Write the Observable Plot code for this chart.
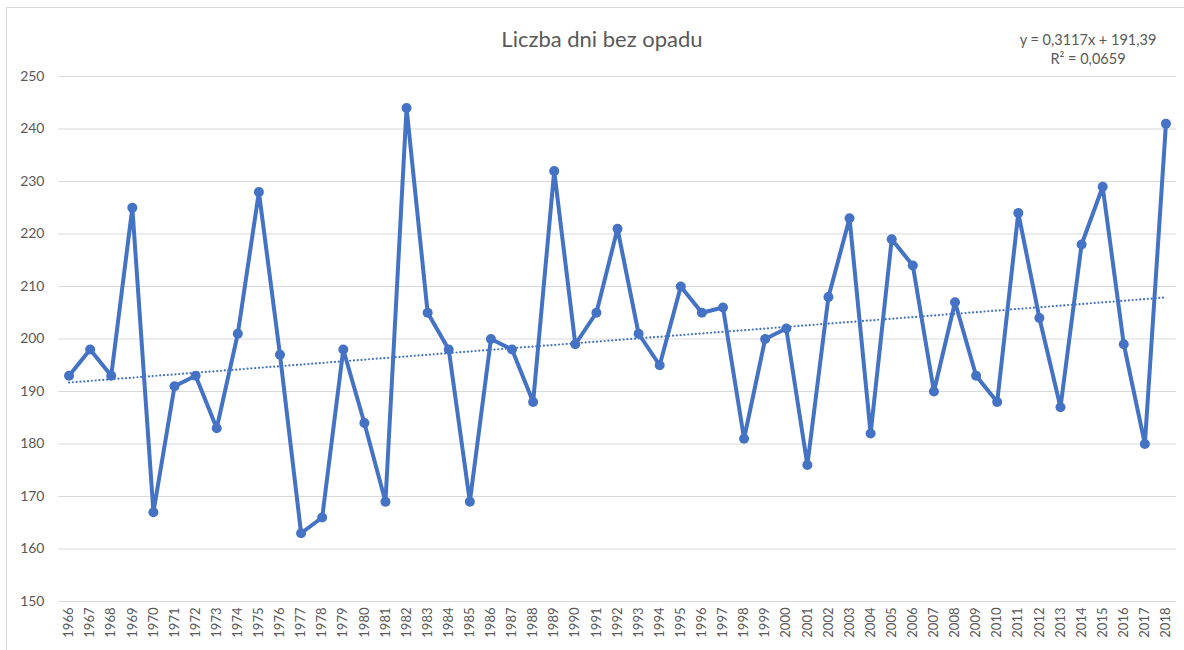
<!DOCTYPE html>
<html><head><meta charset="utf-8">
<script src="https://cdn.jsdelivr.net/npm/d3@7"></script>
<script src="https://cdn.jsdelivr.net/npm/@observablehq/plot@0.6"></script>
<style>
body{margin:0;background:#fff;font-family:Lato,"Open Sans",sans-serif;}
#wrap{position:relative;width:1184px;height:650px;overflow:hidden;}
#frame{position:absolute;left:6px;top:7px;width:1190px;height:660px;border:1px solid #d9d9d9;box-sizing:border-box;}
#title{position:absolute;left:0;width:1204px;top:25px;text-align:center;font-size:22px;color:#595959;}
#eq{position:absolute;left:1008px;width:160px;top:30px;text-align:center;font-size:14.5px;color:#595959;line-height:19px;}
#chart{position:absolute;left:0;top:0;}
</style></head>
<body>
<div id="wrap"><div id="frame"></div><div id="chart"></div><div id="title">Liczba dni bez opadu</div><div id="eq">y = 0,3117x + 191,39<br>R² = 0,0659</div></div>
<script>
const years = [1966,1967,1968,1969,1970,1971,1972,1973,1974,1975,1976,1977,1978,1979,1980,1981,1982,1983,1984,1985,1986,1987,1988,1989,1990,1991,1992,1993,1994,1995,1996,1997,1998,1999,2000,2001,2002,2003,2004,2005,2006,2007,2008,2009,2010,2011,2012,2013,2014,2015,2016,2017,2018];
const values = [193,198,193,225,167,191,193,183,201,228,197,163,166,198,184,169,244,205,198,169,200,198,188,232,199,205,221,201,195,210,205,206,181,200,202,176,208,223,182,219,214,190,207,193,188,224,204,187,218,229,199,180,241];
const yTicks = [150,160,170,180,190,200,210,220,230,240,250];

const data = years.map((year, i) => ({year, value: values[i]}));
const blue = "#4472C4";

const chart = Plot.plot({
  width: 1184, height: 650,
  marginLeft: 58, marginRight: 8, marginTop: 76, marginBottom: 49,
  style: {background: "transparent", fontFamily: "Lato, 'Open Sans', sans-serif", color: "#595959"},
  x: {type: "point", domain: years, padding: 0.5, round: false},
  y: {domain: [150, 250]},
  marks: [
    Plot.ruleY(yTicks, {stroke: "#d9d9d9", strokeWidth: 1.2}),
    Plot.axisY({ticks: yTicks, tickSize: 0, tickPadding: 14, fontSize: 14, label: null}),
    Plot.axisX({tickRotate: -90, tickSize: 0, tickPadding: 6, fontSize: 13, label: null, tickFormat: d => String(d)}),
    Plot.linearRegressionY(data, {x: "year", y: "value", ci: 0, stroke: blue, strokeWidth: 2.2, strokeDasharray: "0.01,3.8", strokeLinecap: "round"}),
    Plot.line(data, {x: "year", y: "value", stroke: blue, strokeWidth: 4, strokeLinejoin: "round"}),
    Plot.dot(data, {x: "year", y: "value", r: 5, fill: blue, stroke: "none"})
  ]
});
document.getElementById("chart").appendChild(chart);
</script>
</body></html>
